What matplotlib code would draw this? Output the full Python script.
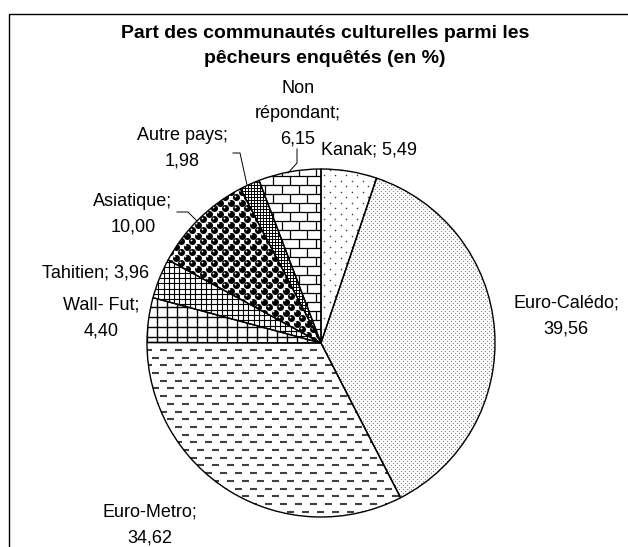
import numpy as np
import matplotlib.pyplot as plt
from matplotlib.collections import LineCollection

plt.rcParams['font.family'] = ['Liberation Sans', 'DejaVu Sans']

# Données
titre = 'Part des communautés culturelles parmi les\npêcheurs enquêtés (en %)'
categories = ['Kanak', 'Euro-Calédo', 'Euro-Metro', 'Wall- Fut', 'Tahitien',
              'Asiatique', 'Autre pays', 'Non répondant']
valeurs = [5.49, 39.56, 34.62, 4.40, 3.96, 10.00, 1.98, 6.15]
etiquettes = ['Kanak; 5,49', 'Euro-Calédo;\n39,56', 'Euro-Metro;\n34,62',
              'Wall- Fut;\n4,40', 'Tahitien; 3,96', 'Asiatique;\n10,00',
              'Autre pays;\n1,98', 'Non\nrépondant;\n6,15']

# Position des étiquettes (pixels, origine en haut à gauche)
pos_etiquettes = [(369, 150), (566, 316), (150, 525), (101, 318),
                  (96, 273), (133, 214), (182, 148), (298, 114)]

W, H = 628, 547
fig = plt.figure(figsize=(W / 100, H / 100), dpi=100)
ax = fig.add_axes([0, 0, 1, 1])

cx, cy, R = 321, H - 343, 174

wedges, _ = ax.pie(valeurs, center=(cx, cy), radius=R, startangle=90,
                   counterclock=False,
                   wedgeprops=dict(facecolor='white', edgecolor='none'))

xs0, xs1 = cx - R - 10, cx + R + 10
ys0, ys1 = cy - R - 10, cy + R + 10


def quinconce(pas_x, pas_y):
    pts = []
    for i, y in enumerate(np.arange(ys0, ys1, pas_y)):
        dec = (pas_x / 2) * (i % 2)
        for x in np.arange(xs0 + dec, xs1, pas_x):
            pts.append((x, y))
    return np.array(pts)


def points(wedge, pas_x, pas_y, diam, couleur):
    p = quinconce(pas_x, pas_y)
    sc = ax.scatter(p[:, 0], p[:, 1], s=(diam * 0.72) ** 2, c=couleur,
                    linewidths=0, zorder=3)
    sc.set_clip_path(wedge)


def boules(wedge, pas_x, pas_y, diam):
    p = quinconce(pas_x, pas_y)
    sc = ax.scatter(p[:, 0], p[:, 1], s=(diam * 0.72) ** 2, c='black',
                    linewidths=0, zorder=3)
    sc.set_clip_path(wedge)
    sc2 = ax.scatter(p[:, 0] - 1.2, p[:, 1] + 1.2, s=(1.8 * 0.72) ** 2,
                     c='white', linewidths=0, zorder=4)
    sc2.set_clip_path(wedge)


def ajouter(wedge, segs, lw, couleur):
    lc = LineCollection(segs, colors=couleur, linewidths=lw, zorder=3,
                        capstyle='butt')
    ax.add_collection(lc)
    lc.set_clip_path(wedge)


def grille(wedge, pas, lw, couleur='black'):
    segs = [[(x, ys0), (x, ys1)] for x in np.arange(xs0, xs1, pas)]
    segs += [[(xs0, y), (xs1, y)] for y in np.arange(ys0, ys1, pas)]
    ajouter(wedge, segs, lw, couleur)


def tirets(wedge, pas_y, longueur, periode, lw, couleur):
    segs = []
    for i, y in enumerate(np.arange(ys0, ys1, pas_y)):
        dec = (periode / 2) * (i % 2)
        for x in np.arange(xs0 + dec, xs1, periode):
            segs.append([(x, y), (x + longueur, y)])
    ajouter(wedge, segs, lw, couleur)


def briques(wedge, pas_y, longueur, lw):
    segs = []
    for i, y in enumerate(np.arange(ys0, ys1, pas_y)):
        segs.append([(xs0, y), (xs1, y)])
        dec = (longueur / 2) * (i % 2)
        for x in np.arange(xs0 + dec, xs1, longueur):
            segs.append([(x, y), (x, y + pas_y)])
    ajouter(wedge, segs, lw, 'black')


# Motifs (noir et blanc, comme dans Excel)
points(wedges[0], 11, 5.5, 1.6, '#444444')        # Kanak
points(wedges[1], 4, 2, 1.3, '#8a8a8a')           # Euro-Calédo
tirets(wedges[2], 7.7, 7, 15, 1.5, '#404040')     # Euro-Metro
grille(wedges[3], 10, 1.0)                        # Wall-Fut
grille(wedges[4], 5.3, 0.8)                       # Tahitien
boules(wedges[5], 11, 5.5, 7)                     # Asiatique
grille(wedges[6], 3, 0.7)                         # Autre pays
briques(wedges[7], 9, 17, 0.9)                    # Non répondant

# Contours des parts
ax.pie(valeurs, center=(cx, cy), radius=R, startangle=90, counterclock=False,
       wedgeprops=dict(facecolor='none', edgecolor='black', linewidth=1.0,
                       zorder=5))

# Étiquettes
for txt, (x, y) in zip(etiquettes, pos_etiquettes):
    ax.text(x, H - y, txt, ha='center', va='center', fontsize=13,
            linespacing=1.65, zorder=6)

# Lignes de rappel
rappels = [
    [(297, 149), (297, 163), (288, 173)],
    [(233, 153), (240, 153), (247, 185)],
    [(177, 212), (188, 212), (197, 221)],
]
for r in rappels:
    xr = [p[0] for p in r]
    yr = [H - p[1] for p in r]
    ax.plot(xr, yr, color='black', lw=0.7, zorder=6)

# Titre
ax.text(325, H - 46, titre, ha='center', va='center', fontsize=14,
        fontweight='bold', linespacing=1.65)

# Cadre
ax.plot([8.5, 8.5, W], [0, H - 13.5, H - 13.5], color='black', lw=1)

ax.set_xlim(0, W)
ax.set_ylim(0, H)
ax.set_aspect('equal')
ax.axis('off')

fig.savefig('out.png', dpi=100)
